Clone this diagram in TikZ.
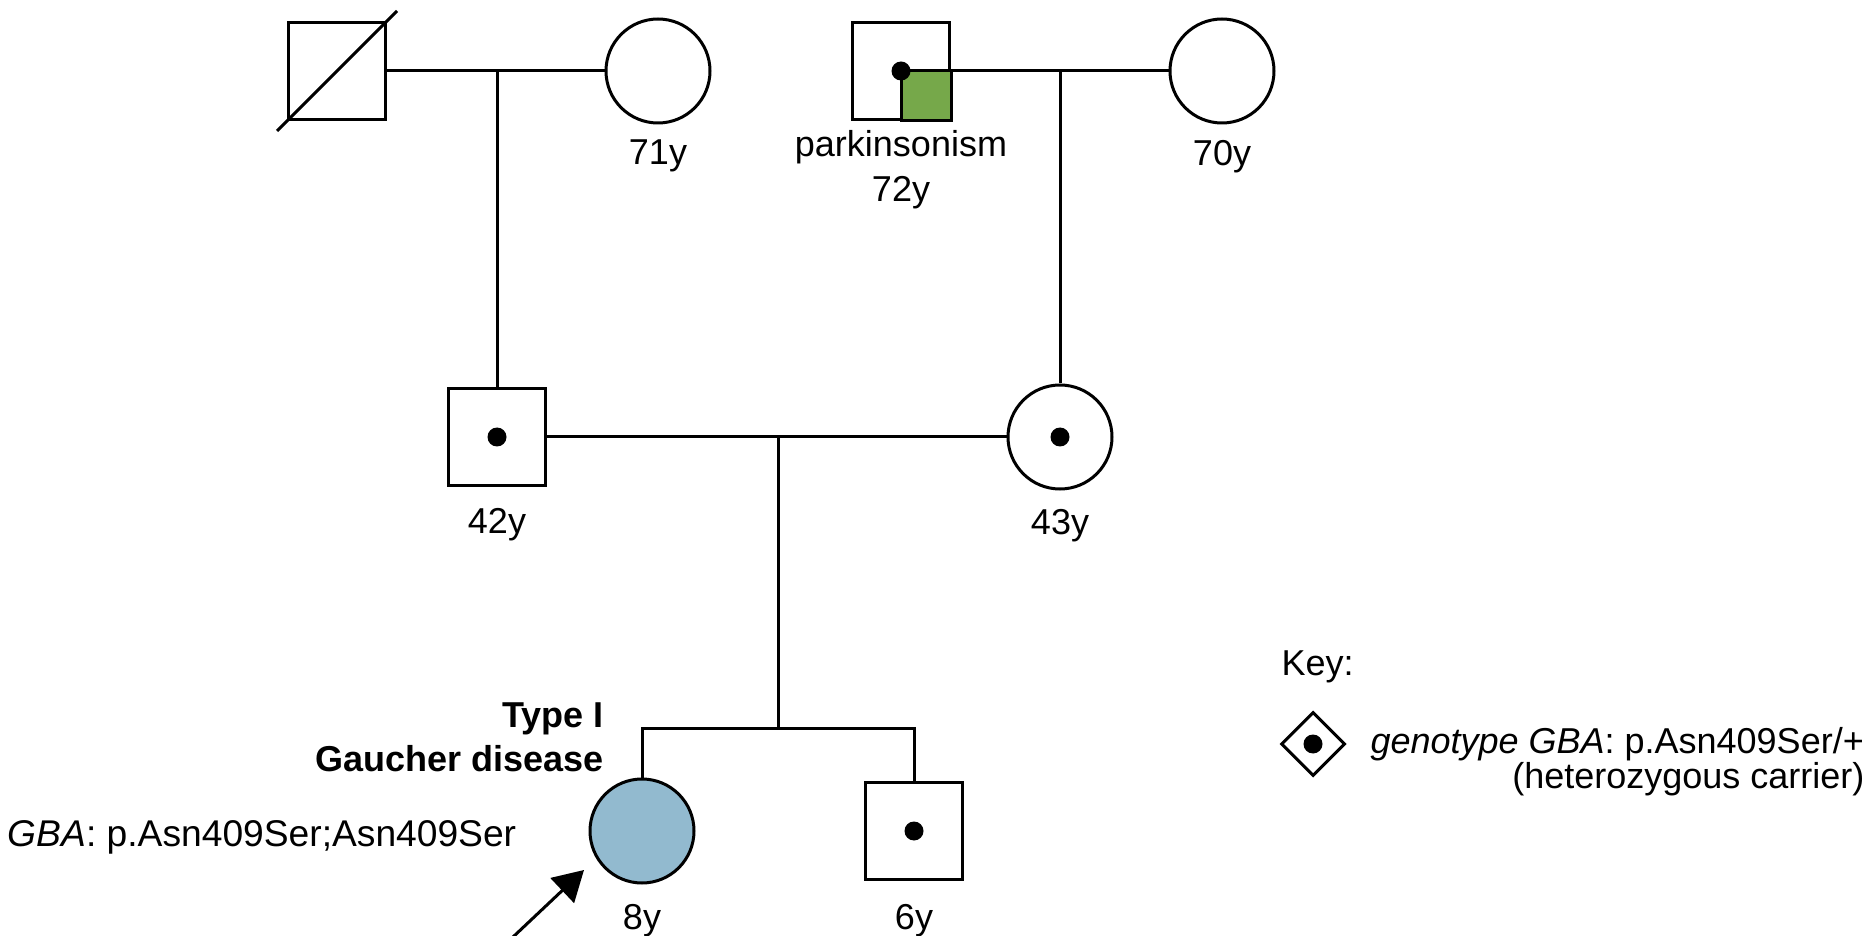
\documentclass[tikz,border=0pt]{standalone}
\usepackage{fontspec}
\setmainfont{Liberation Sans}
\usetikzlibrary{shapes.geometric,arrows.meta,calc}
\definecolor{affblue}{RGB}{146,186,207}
\definecolor{pdgreen}{RGB}{118,168,74}
\begin{document}
\begin{tikzpicture}[x=0.5pt,y=-0.5pt,
  line width=1.5pt,
  male/.style={draw,rectangle,minimum size=48.5pt,inner sep=0pt},
  female/.style={draw,circle,minimum size=52pt,inner sep=0pt},
  keysym/.style={draw,diamond,minimum width=32pt,minimum height=32pt,inner sep=0pt},
  lbl/.style={inner sep=0pt,font=\fontsize{18pt}{21pt}\selectfont},
  widelbl/.style={inner sep=0pt,font=\fontsize{18.6pt}{21pt}\selectfont},
  boldlbl/.style={inner sep=0pt,font=\fontsize{18pt}{21pt}\selectfont\bfseries},
  dotr/.style={radius=4.75pt}
]
\fill[white] (0,0) rectangle (1876,936);
\useasboundingbox (0,0) rectangle (1876,936);

% generation I
\node[male]   (i1) at (337,71) {};
\node[female] (i2) at (658,71) {};
\node[male]   (i3) at (901,71) {};
\node[female] (i4) at (1222,71) {};

% generation II
\node[male]   (ii1) at (497,437) {};
\node[female] (ii2) at (1060,437) {};

% generation III
\node[female,fill=affblue] (iii1) at (642,831) {};
\node[male]   (iii2) at (914,831) {};

% mating and descent lines
\coordinate (m1) at (497,71);
\coordinate (m2) at (1060,71);
\coordinate (m3) at (778,437);
\coordinate (sibl) at (642,728);
\coordinate (sibr) at (914,728);
\draw (i1.east) -- (i2.west);
\draw (m1) -- (ii1.north);
\draw (i3.east) -- (i4.west);
\draw (m2) -- (ii2.north);
\draw (ii1.east) -- (ii2.west);
\draw (m3) -- (m3 |- sibl);
\draw (iii1.north) -- (sibl) -- (sibr) -- (iii2.north);

% deceased
\draw ($(i1.south west)!-0.1!(i1.north east)$) -- ($(i1.north east)!-0.1!(i1.south west)$);

% parkinsonism quadrant
\filldraw[fill=pdgreen] (i3.center) rectangle (i3.south east);

% carrier dots
\fill[dotr] (i3.center) circle;
\fill[dotr] (ii1.center) circle;
\fill[dotr] (ii2.center) circle;
\fill[dotr] (iii2.center) circle;

% proband arrow
\coordinate (ptail) at (513,937);
\coordinate (ptip) at (584,870);
\draw[-{Triangle[length=15pt,width=17pt]}] (ptail) -- (ptip);

% labels
\node[lbl,anchor=base] (l71) at (658,165) {71y};
\node[lbl,anchor=base] (lpark) at (901,157) {parkinsonism};
\node[lbl,anchor=base] (l72) at (901,202) {72y};
\node[lbl,anchor=base] (l70) at (1222,166) {70y};
\node[lbl,anchor=base] (l42) at (497,533) {42y};
\node[lbl,anchor=base] (l43) at (1060,534) {43y};
\node[lbl,anchor=base] (l8) at (642,929) {8y};
\node[lbl,anchor=base] (l6) at (914,929) {6y};
\node[boldlbl,anchor=base east] (ltype) at (605,727) {Type I};
\node[boldlbl,anchor=base east] (lgauch) at (605,771) {Gaucher disease};
\node[widelbl,anchor=base west] (lgba) at (6,846) {\textit{GBA}: p.Asn409Ser;Asn409Ser};

% key
\node[lbl,anchor=base west] (keyhead) at (1280,675) {Key:};
\node[keysym] (keyd) at (1313,744) {};
\fill[dotr] (keyd.center) circle;
\node[lbl,anchor=base west] (keyt1) at (1369,753) {\textit{genotype GBA}: p.Asn409Ser/+};
\node[lbl,anchor=base east] (keyt2) at (1866,788) {(heterozygous carrier)};
\end{tikzpicture}
\end{document}
